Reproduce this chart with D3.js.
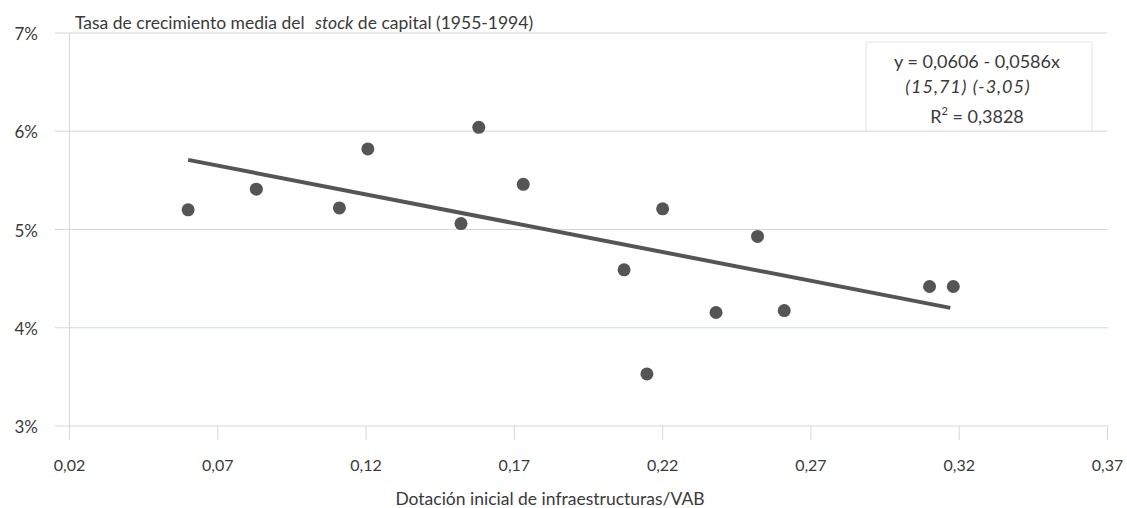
<!DOCTYPE html>
<html>
<head>
<meta charset="utf-8">
<script src="https://cdn.jsdelivr.net/npm/d3@7"></script>
<style>
  body { margin: 0; background: #fff; }
  svg { display: block; }
  text { font-family: Lato, "Open Sans", sans-serif; fill: #3a3a3a; }
</style>
</head>
<body>
<svg id="chart" width="1127" height="508"></svg>
<script>
// ---- data ----
const xValues = [0.060, 0.083, 0.111, 0.1206, 0.152, 0.158, 0.173, 0.207, 0.2147, 0.220, 0.238, 0.252, 0.261, 0.310, 0.318];
const yValues = [5.20, 5.41, 5.22, 5.82, 5.06, 6.04, 5.46, 4.59, 3.53, 5.21, 4.155, 4.93, 4.175, 4.42, 4.42];
const xTicks = [0.02, 0.07, 0.12, 0.17, 0.22, 0.27, 0.32, 0.37];
const yTicks = [3, 4, 5, 6, 7];
const intercept = 0.0606;
const slope = -0.0586;
const fitRange = [0.06, 0.317];
const titleText = "Tasa de crecimiento media del ";
const titleItalic = "stock";
const titleRest = " de capital (1955-1994)";
const xTitle = "Dotación inicial de infraestructuras/VAB";
const eqLines = ["y = 0,0606 - 0,0586x", "(15,71) (-3,05)", "0,3828"];

// ---- chart ----
const svg = d3.select("#chart");
const x = d3.scaleLinear().domain([0.02, 0.37]).range([69.5, 1107.5]);
const y = d3.scaleLinear().domain([3, 7]).range([426, 33]);
const fmtX = v => v.toFixed(2).replace(".", ",");
const grid = "#d3d9d9";

// horizontal grid
svg.append("g").selectAll("line").data(yTicks).join("line")
  .attr("x1", 55).attr("x2", x(0.37))
  .attr("y1", d => y(d)).attr("y2", d => y(d))
  .attr("stroke", grid).attr("stroke-width", 1);

// left axis line
svg.append("line").attr("x1", x(0.02)).attr("x2", x(0.02))
  .attr("y1", y(7)).attr("y2", y(3) + 14)
  .attr("stroke", grid).attr("stroke-width", 1);

// x ticks
svg.append("g").selectAll("line").data(xTicks).join("line")
  .attr("x1", d => x(d)).attr("x2", d => x(d))
  .attr("y1", y(3)).attr("y2", y(3) + 14)
  .attr("stroke", grid).attr("stroke-width", 1);

// x tick labels
svg.append("g").selectAll("text").data(xTicks).join("text")
  .attr("x", d => x(d)).attr("y", 471)
  .attr("text-anchor", "middle").attr("font-size", 16)
  .text(fmtX);

// y tick labels
svg.append("g").selectAll("text").data(yTicks).join("text")
  .attr("x", 38).attr("y", d => y(d) + 7)
  .attr("text-anchor", "end").attr("font-size", 17)
  .text(d => d + "%");

// title
const t = svg.append("text").attr("x", 75).attr("y", 29).attr("font-size", 17.5);
t.append("tspan").text(titleText);
t.append("tspan").attr("dx", 6).attr("font-style", "italic").text(titleItalic);
t.append("tspan").text(titleRest);

// x axis title
svg.append("text").attr("x", 550).attr("y", 505)
  .attr("text-anchor", "middle").attr("font-size", 17.5).text(xTitle);

// legend box
svg.append("rect").attr("x", 866).attr("y", 42).attr("width", 226).attr("height", 89)
  .attr("fill", "#fff").attr("stroke", "#e3e6e6").attr("stroke-width", 1);
svg.append("text").attr("x", 977).attr("y", 68).attr("text-anchor", "middle")
  .attr("font-size", 18).text(eqLines[0]);
svg.append("text").attr("x", 968).attr("y", 93).attr("text-anchor", "middle")
  .attr("font-size", 18).attr("font-style", "italic").attr("letter-spacing", 1).text(eqLines[1]);
const r = svg.append("text").attr("x", 977).attr("y", 123).attr("text-anchor", "middle")
  .attr("font-size", 18);
r.append("tspan").text("R");
r.append("tspan").attr("dy", -8).attr("font-size", 11).text("2");
r.append("tspan").attr("dy", 8).text(" = " + eqLines[2]);

// regression line
svg.append("line")
  .attr("x1", x(fitRange[0])).attr("y1", y((intercept + slope * fitRange[0]) * 100))
  .attr("x2", x(fitRange[1])).attr("y2", y((intercept + slope * fitRange[1]) * 100))
  .attr("stroke", "#555").attr("stroke-width", 4);

// points
svg.append("g").selectAll("circle").data(xValues.map((v, i) => [v, yValues[i]])).join("circle")
  .attr("cx", d => x(d[0])).attr("cy", d => y(d[1])).attr("r", 6.5)
  .attr("fill", "#555");
</script>
</body>
</html>
